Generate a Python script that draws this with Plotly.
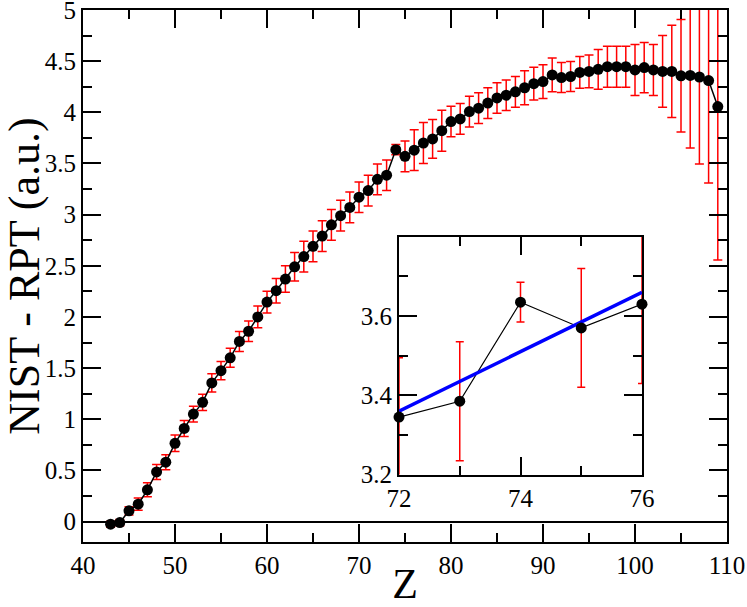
import plotly.graph_objects as go

# ---- data ----
Z = list(range(43, 110))
diff = [-0.026, -0.01, 0.105, 0.17, 0.31, 0.485, 0.58, 0.765, 0.91, 1.05,
        1.165, 1.355, 1.475, 1.60, 1.76, 1.86, 2.0, 2.145, 2.256, 2.37,
        2.49, 2.59, 2.69, 2.79, 2.90, 2.99, 3.07, 3.17, 3.235, 3.345,
        3.385, 3.635, 3.57, 3.63, 3.70, 3.74, 3.82, 3.91, 3.935, 4.007,
        4.04, 4.09, 4.14, 4.167, 4.20, 4.24, 4.28, 4.30, 4.365, 4.34,
        4.35, 4.39, 4.40, 4.42, 4.446, 4.446, 4.446, 4.414, 4.437, 4.414,
        4.40, 4.40, 4.357, 4.36, 4.345, 4.31, 4.056]
err = [0.03, 0.03, 0.04, 0.06, 0.068, 0.073, 0.073, 0.08, 0.078, 0.077,
       0.08, 0.09, 0.09, 0.093, 0.098, 0.10, 0.106, 0.106, 0.12, 0.13,
       0.14, 0.15, 0.15, 0.15, 0.15, 0.15, 0.15, 0.15, 0.15, 0.15,
       0.15, 0.05, 0.15, 0.20, 0.20, 0.19, 0.20, 0.15, 0.15, 0.15,
       0.15, 0.15, 0.15, 0.15, 0.15, 0.165, 0.16, 0.165, 0.165, 0.146,
       0.146, 0.155, 0.16, 0.195, 0.20, 0.20, 0.20, 0.25, 0.245, 0.25,
       0.35, 0.45, 0.55, 0.71, 0.85, 1.0, 1.5]

inset_range = (72, 76)
fit_x = [72, 76]
fit_y = [3.36, 3.66]

x_ticks = [40, 50, 60, 70, 80, 90, 100, 110]
y_ticks = [0, 0.5, 1, 1.5, 2, 2.5, 3, 3.5, 4, 4.5, 5]
inset_x_ticks = [72, 74, 76]
inset_y_ticks = [3.2, 3.4, 3.6]

# inset subset
idx = [i for i, z in enumerate(Z) if inset_range[0] <= z <= inset_range[1]]
iz = [Z[i] for i in idx]
idiff = [diff[i] for i in idx]
ierr = [err[i] for i in idx]

FONT = "Liberation Serif, Times New Roman, serif"

fig = go.Figure()

# main plot
fig.add_trace(go.Scatter(
    x=Z, y=diff, mode="lines+markers",
    line=dict(color="black", width=1.5),
    marker=dict(color="black", size=11),
    error_y=dict(type="data", array=err, visible=True,
                 color="#ff0000", thickness=1.5, width=4.5),
    showlegend=False, xaxis="x", yaxis="y"))

# inset: error bars (clipped)
fig.add_trace(go.Scatter(
    x=iz, y=idiff, mode="markers",
    marker=dict(color="rgba(0,0,0,0)", size=1),
    error_y=dict(type="data", array=ierr, visible=True,
                 color="#ff0000", thickness=1.5, width=4),
    showlegend=False, xaxis="x2", yaxis="y2"))
# inset: black connecting line
fig.add_trace(go.Scatter(
    x=iz, y=idiff, mode="lines",
    line=dict(color="black", width=1.2),
    showlegend=False, xaxis="x2", yaxis="y2"))
# inset: blue fit line
fig.add_trace(go.Scatter(
    x=fit_x, y=fit_y, mode="lines",
    line=dict(color="#0000ff", width=3.5),
    showlegend=False, xaxis="x2", yaxis="y2"))
# inset: markers (not clipped)
fig.add_trace(go.Scatter(
    x=iz, y=idiff, mode="markers",
    marker=dict(color="black", size=11),
    cliponaxis=False,
    showlegend=False, xaxis="x2", yaxis="y2"))

axis_common = dict(
    showline=True, linecolor="black", linewidth=2, mirror="allticks",
    ticks="inside", ticklen=18, tickwidth=1.5, tickcolor="black",
    showgrid=False, automargin=False, ticklabeloverflow="allow",
    tickfont=dict(family=FONT, size=25, color="black"),
)

fig.update_layout(
    width=747, height=607,
    margin=dict(l=83, r=20, t=10, b=64.5),
    paper_bgcolor="white", plot_bgcolor="white",
    font=dict(family=FONT, color="black"),
    xaxis=dict(
        **axis_common,
        range=[40, 110], tickvals=x_ticks,
        minor=dict(dtick=5, ticklen=9, tickwidth=1.5, tickcolor="black", ticks="inside"),
        zeroline=False,
        title=dict(text="Z", font=dict(family=FONT, size=42, color="black"), standoff=0),
        domain=[0, 1], anchor="y",
    ),
    yaxis=dict(
        **axis_common,
        range=[-0.2, 5], tickvals=y_ticks,
        minor=dict(dtick=0.25, tick0=0, ticklen=9, tickwidth=1.5, tickcolor="black", ticks="inside"),
        zeroline=True, zerolinecolor="black", zerolinewidth=1.5,
        title=dict(text="NIST - RPT (a.u.)", font=dict(family=FONT, size=44, color="black"), standoff=12),
        domain=[0, 1], anchor="x",
    ),
    xaxis2=dict(
        **axis_common,
        range=[72, 76], tickvals=inset_x_ticks,
        minor=dict(dtick=1, tick0=72, ticklen=9, tickwidth=1.5, tickcolor="black", ticks="inside"),
        zeroline=False,
        domain=[0.4907, 0.868], anchor="y2",
    ),
    yaxis2=dict(
        **axis_common,
        range=[3.2, 3.8], tickvals=inset_y_ticks,
        minor=dict(dtick=0.1, tick0=3.2, ticklen=9, tickwidth=1.5, tickcolor="black", ticks="inside"),
        zeroline=False,
        domain=[0.1268, 0.5737], anchor="x2",
    ),
)

fig.write_html(
    "out.html",
    config={"displayModeBar": False},
    post_script="document.body.style.margin='0';document.body.style.overflow='hidden';",
)
